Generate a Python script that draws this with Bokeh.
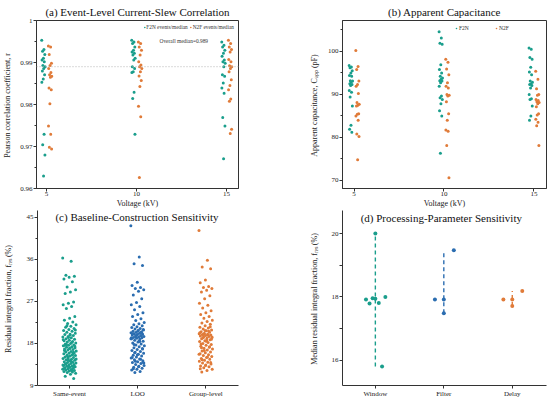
from bokeh.plotting import figure
from bokeh.layouts import column, row
from bokeh.models import FixedTicker, Span, Label, Legend, LegendItem, Range1d
from bokeh.embed import file_html
from bokeh.resources import INLINE

# ---------------- data ----------------
voltages = [5, 10, 15]
voltage_labels = ["5", "10", "15"]

# (a) Pearson correlation coefficient r per event
r_f2n_5kv = [0.9953, 0.9931, 0.9927, 0.9919, 0.9910, 0.9906, 0.9902, 0.9893, 0.9890, 0.9886,
             0.9880, 0.9871, 0.9861, 0.9853, 0.9729, 0.9704, 0.9680, 0.9630]
r_n2f_5kv = [0.9939, 0.9937, 0.9919, 0.9898, 0.9893, 0.9886, 0.9876, 0.9871, 0.9867, 0.9865,
             0.9839, 0.9835, 0.9802, 0.9749, 0.9729, 0.9698, 0.9694]
r_f2n_10kv = [0.9953, 0.9949, 0.9945, 0.9937, 0.9929, 0.9925, 0.9922, 0.9918, 0.9910, 0.9906,
              0.9890, 0.9886, 0.9878, 0.9876, 0.9829, 0.9814, 0.9729]
r_n2f_10kv = [0.9949, 0.9945, 0.9937, 0.9929, 0.9918, 0.9902, 0.9894, 0.9890, 0.9886, 0.9878,
              0.9868, 0.9857, 0.9843, 0.9796, 0.9771, 0.9626]
r_f2n_15kv = [0.9949, 0.9941, 0.9937, 0.9929, 0.9922, 0.9915, 0.9906, 0.9902, 0.9898, 0.9890,
              0.9871, 0.9867, 0.9851, 0.9839, 0.9827, 0.9769, 0.9749, 0.9671]
r_n2f_15kv = [0.9953, 0.9945, 0.9937, 0.9931, 0.9925, 0.9907, 0.9902, 0.9892, 0.9890, 0.9886,
              0.9878, 0.9859, 0.9845, 0.9835, 0.9813, 0.9808, 0.9741, 0.9731]
overall_median_r = 0.989

# (b) apparent capacitance (pF)
cap_f2n_5kv = [96.7, 96.4, 96.2, 95.5, 95.0, 94.4, 94.2, 93.2, 93.1, 92.8, 92.5, 92.3, 92.1,
               90.9, 90.5, 89.4, 87.3, 82.8, 81.9, 81.2]
cap_n2f_5kv = [100.2, 96.5, 95.8, 93.1, 92.3, 91.9, 90.2, 88.1, 87.7, 87.5, 87.3, 85.5, 85.4,
               85.0, 84.0, 80.8, 80.2, 74.8]
cap_f2n_10kv = [104.6, 103.1, 101.9, 101.7, 96.9, 95.8, 95.0, 94.2, 93.8, 93.5, 93.2, 93.1,
                92.7, 91.9, 89.6, 89.2, 88.8, 87.8, 86.2, 85.0, 76.3]
cap_n2f_10kv = [98.2, 97.5, 95.9, 94.6, 92.7, 91.9, 91.5, 90.0, 89.8, 89.6, 88.3, 85.5, 84.0,
                81.7, 81.4, 78.1, 70.6]
cap_f2n_15kv = [100.8, 100.5, 98.6, 98.2, 96.3, 95.2, 94.6, 93.1, 92.8, 92.5, 92.3, 92.1, 91.5,
                90.0, 89.0, 88.8, 87.3, 85.0, 84.0]
cap_n2f_15kv = [95.4, 93.5, 91.3, 90.0, 89.8, 88.8, 88.6, 88.3, 88.1, 87.8, 87.1, 85.5, 85.2,
                84.2, 83.5, 82.7, 78.1]

# (c) residual integral fraction (%) per baseline construction
baseline_methods = ["Same-event", "LOO", "Group-level"]
fres_same_event = [36.3, 35.6, 32.6, 32.4, 32.2, 31.8, 31.2, 30.1, 29.5, 29.0, 28.7, 26.9, 26.6,
                   26.3, 25.9, 25.5, 23.8, 23.4, 23.0, 22.6, 22.3, 22.0, 21.7, 21.5, 21.2, 21.0,
                   20.8, 20.6, 20.4, 20.2, 20.0, 19.9, 19.7, 19.5, 19.4, 19.2, 19.0, 18.9, 18.7,
                   18.6, 18.4, 18.3, 18.1, 18.0, 17.9, 17.7, 17.6, 17.5, 17.3, 17.2, 17.1, 17.0,
                   16.8, 16.7, 16.6, 16.4, 16.3, 16.2, 16.0, 15.9, 15.8, 15.6, 15.5, 15.4, 15.3,
                   15.1, 15.0, 14.9, 14.8, 14.6, 14.5, 14.4, 14.3, 14.1, 14.0, 13.9, 13.8, 13.7,
                   13.6, 13.5, 13.4, 13.3, 13.2, 13.1, 13.0, 12.9, 12.8, 12.7, 12.6, 12.5, 12.4,
                   12.3, 12.2, 12.1, 12.0, 11.9, 11.8, 11.6, 11.4, 11.0, 10.5, 19.3, 18.8, 18.2,
                   17.8, 17.4, 16.9, 16.5, 15.7, 15.2, 14.7, 14.2, 13.6, 13.2, 12.9, 12.6, 12.3,
                   21.8, 20.9, 19.8, 17.6, 16.1, 14.4, 13.4, 12.2]
fres_loo = [43.2, 36.5, 35.1, 34.7, 31.1, 30.4, 30.0, 29.8, 29.5, 29.2, 28.4, 27.6, 26.8, 26.3,
            25.9, 25.2, 24.6, 24.2, 23.8, 23.3, 22.9, 22.5, 22.2, 22.0, 21.8, 21.6, 21.4, 21.2,
            21.1, 20.9, 20.8, 20.6, 20.5, 20.4, 20.3, 20.2, 20.1, 20.0, 19.9, 19.8, 19.7, 19.6,
            19.5, 19.4, 19.3, 19.2, 19.1, 19.0, 18.9, 18.7, 18.5, 18.3, 18.1, 17.9, 17.7, 17.5,
            17.3, 17.1, 16.9, 16.7, 16.5, 16.3, 16.1, 15.9, 15.7, 15.5, 15.3, 15.1, 14.9, 14.7,
            14.5, 14.3, 14.1, 13.9, 13.7, 13.5, 13.3, 13.1, 12.9, 12.7, 12.5, 12.3, 12.0, 11.8,
            21.0, 20.7, 20.1, 19.6, 19.4, 19.0, 18.6, 17.8, 16.8, 15.6, 15.0, 14.6, 14.2, 13.8,
            13.0, 12.6, 20.3, 19.8, 19.2, 18.4, 16.0, 14.0]
fres_group = [42.2, 35.8, 34.4, 34.0, 31.6, 31.0, 30.2, 30.0, 29.8, 29.4, 29.0, 28.2, 27.6, 26.6,
              26.2, 25.6, 25.0, 24.6, 24.2, 23.8, 23.4, 23.0, 22.7, 22.4, 22.1, 21.8, 21.5, 21.3,
              21.1, 20.9, 20.7, 20.5, 20.4, 20.2, 20.1, 20.0, 19.9, 19.8, 19.7, 19.6, 19.5, 19.4,
              19.3, 19.1, 19.0, 18.8, 18.6, 18.4, 18.2, 18.0, 17.8, 17.6, 17.4, 17.2, 17.0, 16.8,
              16.6, 16.4, 16.2, 16.0, 15.8, 15.6, 15.4, 15.2, 15.0, 14.8, 14.6, 14.4, 14.2, 14.0,
              13.8, 13.6, 13.4, 13.2, 13.0, 12.8, 12.5, 12.2, 11.9, 21.6, 20.8, 20.3, 19.8, 19.2,
              18.9, 18.5, 17.9, 17.3, 16.5, 15.7, 15.1, 14.5, 13.9, 13.3, 12.6, 20.6, 19.9, 19.4,
              18.7, 17.1]

# (d) median residual integral fraction (%) per processing-parameter setting
parameters = ["Window", "Filter", "Delay"]
med_window = [20.0, 17.92, 17.79, 17.96, 17.94, 17.81, 18.0, 15.8]
med_filter = [17.92, 17.92, 17.48, 19.47]
med_delay = [17.92, 17.92, 17.71, 18.19]

# ---------------- style ----------------
SERIF = "Liberation Serif"
TEAL = "#1a9e8c"
ORANGE = "#e07b39"
BLUE = "#2b6db0"
AX = "#333333"
TXT = "#222222"
TITLE_SIZE = "11px"

LW, RW = 290, 258          # column widths
TOP_H, BOT_H = 210, 190    # row heights
L_LEFT, L_RIGHT = 33, 52
R_LEFT, R_RIGHT = 52, 2
T_TOP, T_BOT = 20, 20
B_TOP, B_BOT = 0, 13
BOT_FH = BOT_H - B_TOP - B_BOT


def jitter(n, half):
    # deterministic low-discrepancy spread for strip plots
    return [half * (((i * 0.6180339887498949) % 1.0) * 2.0 - 1.0) for i in range(n)]


def make_fig(w, h, bl, br, bt, bb, xr, yr, box, title=None, title_offset=0):
    p = figure(width=w, height=h, x_range=Range1d(*xr), y_range=Range1d(*yr),
               output_backend="svg", toolbar_location=None, title=title,
               min_border_left=bl, min_border_right=br, min_border_top=bt, min_border_bottom=bb)
    p.xgrid.grid_line_color = None
    p.ygrid.grid_line_color = None
    p.outline_line_color = AX if box else None
    if title:
        p.title.text_font = SERIF
        p.title.text_font_size = TITLE_SIZE
        p.title.text_font_style = "normal"
        p.title.text_color = "#111111"
        p.title.align = "center"
        p.title.offset = title_offset
        p.title.standoff = 5
    for ax in p.axis:
        ax.axis_line_color = AX
        ax.major_tick_line_color = AX
        ax.minor_tick_line_color = AX
        ax.major_tick_in = 0
        ax.major_tick_out = 3
        ax.minor_tick_in = 0
        ax.minor_tick_out = 2
        ax.major_label_text_font = SERIF
        ax.major_label_text_font_size = "7px"
        ax.major_label_text_color = TXT
        ax.major_label_standoff = 1
        ax.axis_label_text_font = SERIF
        ax.axis_label_text_font_style = "normal"
        ax.axis_label_text_font_size = "8px"
        ax.axis_label_text_color = TXT
    return p


def xlabel(p, text):
    p.xaxis.axis_label = text
    p.xaxis.axis_label_standoff = 0
    p.xaxis.major_label_standoff = 0


def ylabel(p, text, standoff):
    p.yaxis.axis_label = text
    p.yaxis.axis_label_standoff = standoff


def inner_title(p, text, x, y):
    p.add_layout(Label(x=x, y=y, x_units="screen", y_units="screen", text=text,
                       text_font=SERIF, text_font_size=TITLE_SIZE, text_color="#111111",
                       text_align="center", text_baseline="middle"))


def strip_xy(groups, centers, offset, half):
    xs, ys = [], []
    for vals, c in zip(groups, centers):
        for v, j in zip(vals, jitter(len(vals), half)):
            xs.append(c + offset + j)
            ys.append(v)
    return xs, ys


# ---------------- (a) ----------------
pa = make_fig(LW, TOP_H, L_LEFT, L_RIGHT, T_TOP, T_BOT, (4.44, 15.66), (0.96, 1.0), True,
              title="(a) Event-Level Current-Slew Correlation", title_offset=-6)
pa.xaxis.ticker = FixedTicker(ticks=voltages)
pa.xaxis.major_label_overrides = {v: l for v, l in zip(voltages, voltage_labels)}
pa.yaxis.ticker = FixedTicker(ticks=[0.96, 0.97, 0.98, 0.99, 1.0],
                              minor_ticks=[0.965, 0.975, 0.985, 0.995])
pa.yaxis.major_label_overrides = {0.96: "0.96", 0.97: "0.97", 0.98: "0.98", 0.99: "0.99", 1.0: "1"}
xlabel(pa, "Voltage (kV)")
ylabel(pa, "Pearson correlation coefficient,  r", 5)
pa.add_layout(Span(location=overall_median_r, dimension="width", line_color="#b5b5b5",
                   line_width=1, line_dash="1 2"))
xa1, ya1 = strip_xy([r_f2n_5kv, r_f2n_10kv, r_f2n_15kv], voltages, -0.17, 0.1)
xa2, ya2 = strip_xy([r_n2f_5kv, r_n2f_10kv, r_n2f_15kv], voltages, 0.2, 0.1)
ra1 = pa.scatter(x=xa1, y=ya1, size=3, color=TEAL, line_color=None)
ra2 = pa.scatter(x=xa2, y=ya2, size=3, color=ORANGE, line_color=None)
pa.add_layout(Legend(items=[LegendItem(label="F2N events/median", renderers=[ra1]),
                            LegendItem(label="N2F events/median", renderers=[ra2])],
                     orientation="horizontal", location="top_right",
                     label_text_font=SERIF, label_text_font_size="5.3px",
                     label_text_color="#333333",
                     glyph_width=4, glyph_height=4, label_height=5, label_standoff=0,
                     spacing=1, padding=1, margin=4,
                     background_fill_alpha=0, border_line_color=None))
pa.add_layout(Label(x=123, y=148, x_units="screen", y_units="screen",
                    text="Overall median=%.3f" % overall_median_r,
                    text_font=SERIF, text_font_size="5.4px", text_color="#333333",
                    text_baseline="middle"))

# ---------------- (b) ----------------
pb = make_fig(RW, TOP_H, R_LEFT, R_RIGHT, T_TOP, T_BOT, (4.36, 15.7), (68.1, 107.2), True,
              title="(b) Apparent Capacitance", title_offset=-4)
pb.xaxis.ticker = FixedTicker(ticks=voltages)
pb.xaxis.major_label_overrides = {v: l for v, l in zip(voltages, voltage_labels)}
pb.yaxis.ticker = FixedTicker(ticks=[70, 80, 90, 100], minor_ticks=[75, 85, 95, 105])
xlabel(pb, "Voltage (kV)")
ylabel(pb, "Apparent capacitance,  C\u2090\u209a\u209a (pF)", 6)
xb1, yb1 = strip_xy([cap_f2n_5kv, cap_f2n_10kv, cap_f2n_15kv], voltages, -0.17, 0.1)
xb2, yb2 = strip_xy([cap_n2f_5kv, cap_n2f_10kv, cap_n2f_15kv], voltages, 0.2, 0.1)
rb1 = pb.scatter(x=xb1, y=yb1, size=3, color=TEAL, line_color=None)
rb2 = pb.scatter(x=xb2, y=yb2, size=3, color=ORANGE, line_color=None)
pb.add_layout(Legend(items=[LegendItem(label="F2N", renderers=[rb1]),
                            LegendItem(label="N2F", renderers=[rb2])],
                     orientation="horizontal", location=(112, 157),
                     label_text_font=SERIF, label_text_font_size="5.5px",
                     label_text_color="#333333",
                     glyph_width=4, glyph_height=4, label_height=5, label_standoff=1,
                     spacing=15, padding=1, margin=0,
                     background_fill_alpha=0, border_line_color=None))

# ---------------- (c) ----------------
pc = make_fig(LW, BOT_H, L_LEFT, L_RIGHT, B_TOP, B_BOT, (-0.47, 2.48), (9, 46.48), False)
pc.xaxis.ticker = FixedTicker(ticks=[0, 1, 2])
pc.xaxis.major_label_overrides = {i: m for i, m in enumerate(baseline_methods)}
pc.yaxis.ticker = FixedTicker(ticks=[9, 18, 27, 36, 45], minor_ticks=[13.5, 22.5, 31.5, 40.5])
ylabel(pc, "Residual integral fraction,  f\u1d63\u2091\u209b (%)", 11)
for i, (vals, col) in enumerate(zip([fres_same_event, fres_loo, fres_group],
                                    [TEAL, BLUE, ORANGE])):
    xs, ys = strip_xy([vals], [i], 0.0, 0.1)
    pc.scatter(x=xs, y=ys, size=3, color=col, line_color=None)
inner_title(pc, "(c) Baseline-Construction Sensitivity", 99.5, BOT_FH - 8.3)

# ---------------- (d) ----------------
pd_ = make_fig(RW, BOT_H, R_LEFT, R_RIGHT, B_TOP, B_BOT, (-0.48, 2.5), (15.2, 20.73), False)
pd_.xaxis.ticker = FixedTicker(ticks=[0, 1, 2])
pd_.xaxis.major_label_overrides = {i: m for i, m in enumerate(parameters)}
pd_.yaxis.ticker = FixedTicker(ticks=[16, 18, 20], minor_ticks=[17, 19])
pd_.yaxis.minor_tick_out = 3
ylabel(pd_, "Median residual integral fraction,  f\u1d63\u2091\u209b (%)", 10)
setting_offsets = {
    "Window": [0.0, -0.137, -0.085, -0.04, 0.0, 0.05, 0.146, 0.098],
    "Filter": [-0.13, 0.0, 0.0, 0.146],
    "Delay": [-0.13, 0.0, 0.0, 0.146],
}
for i, (name, vals, col) in enumerate(zip(parameters, [med_window, med_filter, med_delay],
                                          [TEAL, BLUE, ORANGE])):
    pd_.segment(x0=[i], y0=[min(vals)], x1=[i], y1=[max(vals)], line_color=col,
                line_width=1.4, line_dash="4 3")
    xs = [i + o for o in setting_offsets[name]]
    pd_.scatter(x=xs, y=vals, size=4, color=col, line_color=None)
inner_title(pd_, "(d) Processing-Parameter Sensitivity", 98.8, BOT_FH - 9.5)

layout = column(row(pa, pb), row(pc, pd_))
open("out.html", "w").write(file_html(layout, INLINE))
